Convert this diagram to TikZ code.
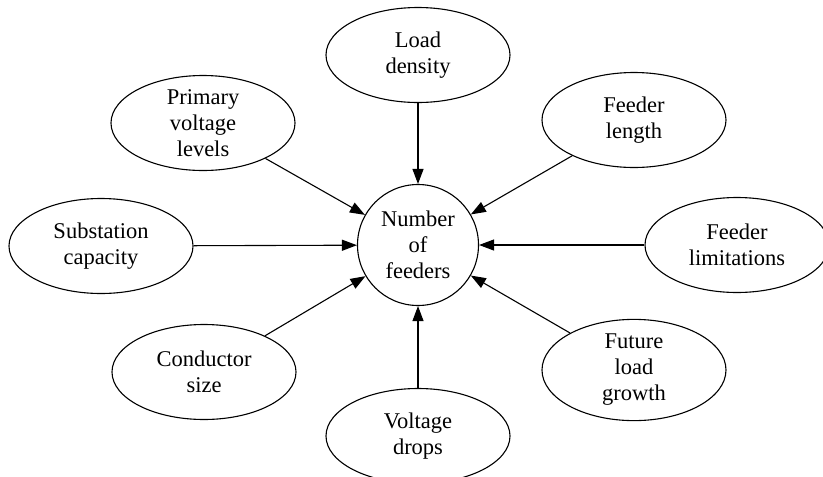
\documentclass[tikz,border=0pt]{standalone}
\usepackage{fontspec}
\setmainfont{Liberation Serif}
\usepackage{tikz}
\usetikzlibrary{arrows.meta, shapes.geometric}

\begin{document}
\begin{tikzpicture}[x=1pt, y=-1pt,
    factor/.style={ellipse, draw, line width=1.1pt, minimum width=184pt, minimum height=95pt, inner sep=0pt, align=center, font=\fontsize{22.5}{26}\selectfont},
    hub/.style={circle, draw, line width=1.1pt, minimum size=121pt, inner sep=0pt, align=center, font=\fontsize{22.5}{26}\selectfont},
    feed/.style={line width=1.1pt, -{Triangle[length=15pt, width=11pt]}}]
    \useasboundingbox (0,0) rectangle (823,477);

    \node[hub] (hub) at (418,245) {Number\\of\\feeders};

    \node[factor] (load) at (418,55) {Load\\density};
    \node[factor] (primary) at (203,123) {Primary\\voltage\\levels};
    \node[factor] (length) at (634,120) {Feeder\\length};
    \node[factor] (substation) at (101,246) {Substation\\capacity};
    \node[factor] (limits) at (737,245) {Feeder\\limitations};
    \node[factor] (conductor) at (204,372) {Conductor\\size};
    \node[factor] (growth) at (634,370) {Future\\load\\growth};
    \node[factor] (drops) at (418,436) {Voltage\\drops};

    \foreach \f in {load, primary, length, substation, limits, conductor, growth, drops}
        \draw[feed] (\f) -- (hub);
\end{tikzpicture}
\end{document}
